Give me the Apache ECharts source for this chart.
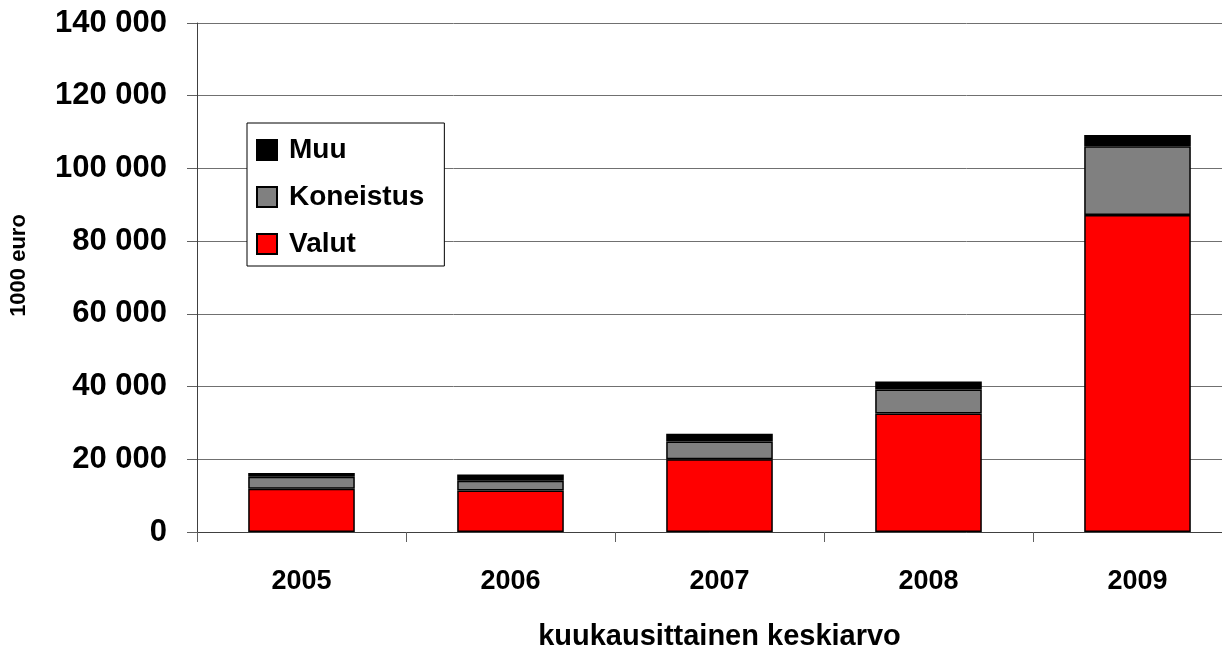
<!DOCTYPE html>
<html>
<head>
<meta charset="utf-8">
<script src="https://cdn.jsdelivr.net/npm/echarts@6/dist/echarts.min.js"></script>
<style>html,body{margin:0;padding:0;background:#fff}#c{width:1222px;height:648px}</style>
</head>
<body>
<div id="c"></div>
<script>
var categories = ['2005', '2006', '2007', '2008', '2009'];
var valut = [11900, 11400, 20000, 32600, 87200];
var koneistus = [3300, 2700, 4900, 6600, 18900];
var muu = [1000, 1700, 2100, 2200, 3100];
var yTicks = [0, 20000, 40000, 60000, 80000, 100000, 120000, 140000];

var FONT = '"Liberation Sans", Arial, sans-serif';
function fmt(v) { return String(v).replace(/\B(?=(\d{3})+(?!\d))/g, ' '); }
var chart = echarts.init(document.getElementById('c'), null, {renderer: 'canvas'});
var border = {borderColor: '#000', borderWidth: 1.5};
chart.setOption({
  animation: false,
  backgroundColor: '#fff',
  grid: {left: 197, right: -20, top: 23, bottom: 116, containLabel: false, outerBoundsMode: 'none'},
  legend: {
    orient: 'vertical', left: 247, top: 123,
    data: ['Muu', 'Koneistus', 'Valut'],
    icon: 'rect',
    itemWidth: 20, itemHeight: 20, itemGap: 19,
    padding: [13, 20, 8, 9],
    borderColor: '#000', borderWidth: 1, backgroundColor: '#fff',
    textStyle: {fontFamily: FONT, fontWeight: 'bold', fontSize: 28, color: '#000', padding: [0, 0, 0, 7]}
  },
  xAxis: {
    type: 'category', data: categories,
    name: 'kuukausittainen keskiarvo', nameLocation: 'middle', nameGap: 90,
    nameTextStyle: {fontFamily: FONT, fontWeight: 'bold', fontSize: 29, color: '#000'},
    axisLine: {lineStyle: {color: '#404040', width: 1}},
    axisTick: {show: true, length: 10, inside: false, lineStyle: {color: '#606060'}},
    axisLabel: {fontFamily: FONT, fontWeight: 'bold', fontSize: 27, color: '#000', margin: 36},
    splitLine: {show: false}
  },
  yAxis: {
    type: 'value', min: yTicks[0], max: yTicks[yTicks.length - 1], interval: yTicks[1] - yTicks[0],
    name: '1000 euro', nameLocation: 'middle', nameRotate: 90, nameGap: 167,
    nameTextStyle: {fontFamily: FONT, fontWeight: 'bold', fontSize: 22, color: '#000', padding: [0, 0, 0, 24]},
    axisLine: {show: true, lineStyle: {color: '#404040', width: 1}},
    axisTick: {show: true, length: 10, lineStyle: {color: '#606060'}},
    axisLabel: {fontFamily: FONT, fontWeight: 'bold', fontSize: 31, color: '#000', margin: 30, formatter: fmt},
    splitLine: {show: true, lineStyle: {color: '#707070', width: 1}}
  },
  series: [
    {name: 'Valut', type: 'bar', stack: 'a', data: valut, barWidth: '51%', itemStyle: Object.assign({color: '#ff0000'}, border)},
    {name: 'Koneistus', type: 'bar', stack: 'a', data: koneistus, barWidth: '51%', itemStyle: Object.assign({color: '#808080'}, border)},
    {name: 'Muu', type: 'bar', stack: 'a', data: muu, barWidth: '51%', itemStyle: Object.assign({color: '#000000'}, border)}
  ]
});
</script>
</body>
</html>
